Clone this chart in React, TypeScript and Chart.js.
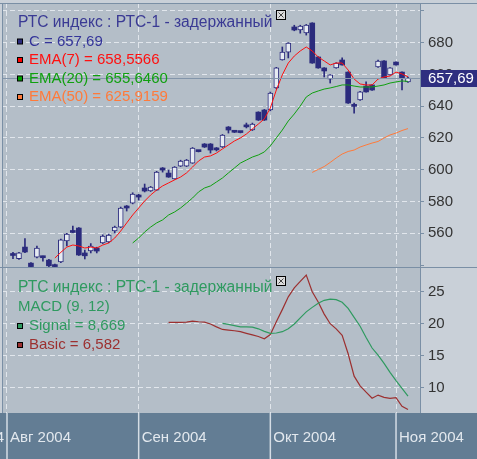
import React, { useEffect, useRef } from 'react';
import { Chart, registerables } from 'chart.js';

Chart.register(...registerables);

// ---------------- data ----------------
const monthStarts = [0, 22, 44, 65]; // trading-day index of first day of month
const monthLabels = ['Авг 2004', 'Сен 2004', 'Окт 2004', 'Ноя 2004'];
const prevMonthLabel = 'Июл 2004';
const firstCandleDay = 1;

const opens = [546.2, 544.0, 551.3, 541.2, 545.0, 545.5, 543.1, 540.2, 541.9, 555.1, 561.2, 563.3, 547.6, 548.8, 550.7, 553.9, 554.5, 561.4, 563.9, 577.1, 579.0, 584.1, 588.5, 586.6, 587.2, 601.1, 597.9, 594.2, 602.3, 602.3, 604.2, 611.9, 616.2, 616.2, 613.7, 614.3, 626.9, 624.0, 623.8, 628.1, 625.0, 636.3, 637.6, 637.6, 651.5, 669.1, 674.1, 689.9, 688.0, 686.1, 692.4, 671.0, 664.1, 657.1, 664.1, 669.1, 661.5, 640.1, 643.9, 652.7, 653.4, 664.7, 668.5, 659.7, 667.8, 661.5, 655.3];
const highs = [548.0, 548.0, 556.7, 541.6, 552.0, 545.7, 543.6, 540.6, 556.3, 560.0, 564.5, 563.6, 549.4, 553.5, 551.2, 559.0, 559.5, 564.5, 576.5, 577.5, 585.5, 584.5, 591.0, 589.5, 599.0, 601.4, 599.8, 602.0, 606.0, 606.5, 614.0, 612.2, 616.5, 616.5, 614.0, 622.2, 627.2, 624.2, 624.0, 629.4, 629.4, 636.5, 638.0, 649.0, 664.5, 677.3, 680.0, 691.0, 691.0, 691.5, 692.6, 671.2, 664.3, 659.9, 667.4, 670.4, 661.7, 642.0, 649.3, 655.3, 653.6, 669.1, 668.7, 664.3, 668.0, 661.7, 658.4];
const lows = [544.0, 543.5, 547.8, 538.8, 544.5, 542.5, 538.8, 538.8, 541.5, 552.0, 560.3, 546.0, 543.8, 547.6, 547.6, 553.5, 554.0, 560.1, 563.5, 574.0, 578.5, 580.9, 586.0, 586.3, 587.0, 598.5, 595.2, 594.0, 602.0, 602.0, 604.0, 611.2, 614.0, 610.5, 611.8, 614.0, 623.1, 623.4, 623.2, 626.3, 624.7, 631.0, 631.0, 637.0, 651.0, 669.0, 670.4, 687.5, 686.0, 684.8, 667.0, 663.9, 658.4, 654.6, 663.9, 665.8, 641.8, 635.7, 643.7, 648.8, 650.0, 664.5, 657.6, 659.5, 665.8, 650.2, 655.0];
const closes = [546.0, 547.6, 548.2, 539.0, 550.7, 544.6, 539.5, 539.0, 555.8, 559.5, 560.5, 546.3, 545.8, 551.9, 548.8, 558.3, 558.9, 563.9, 575.9, 575.9, 584.7, 582.8, 586.6, 589.1, 598.5, 599.8, 595.4, 601.7, 605.5, 606.1, 613.7, 611.4, 614.3, 612.4, 612.5, 621.9, 625.0, 623.6, 623.4, 627.0, 628.8, 631.3, 631.3, 648.3, 664.1, 674.1, 679.8, 688.0, 690.5, 691.1, 667.2, 664.1, 662.2, 659.7, 667.2, 666.0, 642.0, 639.9, 649.0, 649.0, 650.2, 668.5, 657.8, 664.1, 666.0, 657.8, 657.69];

const ema7Start = 8;
const ema7 = [544.4, 548.0, 551.3, 552.6, 552.0, 550.7, 551.3, 550.7, 552.6, 553.9, 557.0, 561.4, 566.5, 571.5, 575.9, 580.3, 584.1, 587.2, 589.8, 591.7, 593.6, 595.4, 598.0, 601.7, 605.5, 608.0, 608.7, 610.5, 613.1, 615.6, 618.1, 620.0, 622.5, 625.7, 628.8, 632.0, 638.9, 650.2, 659.7, 667.2, 671.6, 674.8, 677.3, 674.8, 671.0, 668.5, 666.0, 667.2, 667.2, 662.8, 657.1, 654.0, 653.4, 653.4, 657.1, 658.4, 659.0, 661.5, 660.3, 658.5566];
const ema20Start = 21;
const ema20 = [553.9, 557.0, 560.8, 563.9, 566.5, 568.4, 571.5, 573.4, 575.9, 579.0, 582.2, 586.0, 588.5, 589.8, 592.3, 594.8, 598.0, 601.1, 604.2, 606.1, 608.0, 609.3, 611.2, 615.0, 620.0, 625.0, 630.7, 635.1, 640.1, 645.8, 648.3, 649.6, 650.8, 651.5, 652.4, 653.4, 653.4, 652.7, 652.1, 652.1, 652.1, 652.7, 653.4, 654.6, 655.3, 655.9, 655.646];
const ema50Start = 51;
const ema50 = [598.3, 600.2, 602.0, 604.6, 607.4, 609.9, 611.5, 612.4, 614.3, 615.6, 616.8, 617.8, 620.0, 621.9, 623.1, 624.7, 625.9159];

const basicStart = 27;
const macdBasic = [20.2, 20.2, 20.2, 20.25, 20.4, 20.3, 20.25, 19.95, 19.5, 19.1, 19.0, 18.9, 18.75, 18.5, 18.25, 18.0, 17.65, 18.3, 20.3, 22.2, 24.2, 25.6, 26.6, 27.6, 25.0, 23.4, 21.5, 20.0, 19.2, 18.2, 15.3, 11.8, 10.3, 9.3, 8.35, 8.85, 8.5, 8.35, 8.45, 7.1, 6.582];
const signalStart = 36;
const macdSignal = [20.06, 19.9, 19.7, 19.5, 19.5, 19.45, 19.2, 18.8, 18.5, 18.55, 18.75, 19.2, 19.95, 20.9, 21.85, 22.55, 23.2, 23.65, 23.85, 23.75, 23.35, 22.4, 21.0, 19.6, 17.85, 16.2, 15.1, 13.8, 12.4, 11.1, 9.9, 8.669];

const priceTickLabels = [560, 580, 600, 620, 640, 660, 680];
const macdTickLabels = [10, 15, 20, 25];
const titleText = 'РТС индекс : РТС-1 - задержанный';

// ---------------- style ----------------
const X_MIN = -0.835;
const X_MAX = 69.006;
const PRICE_MIN = 538.75;
const PRICE_MAX = 705;
const MACD_MIN = 6.05;
const MACD_MAX = 28.7;

const NAVY = '#2b2b7d';
const HOLLOW = '#e6ebf2';
const PLOT_BG = '#b4bec8';
const AXIS_BG = '#c9d0d8';
const DATE_BG = '#637d94';
const FRAME = '#7a8fa5';
const GRID = 'rgba(236,240,245,0.8)';
const FONT = '"Liberation Sans", Arial, sans-serif';
const TITLE_FONT = `15.6px ${FONT}`;
const TEXT_FONT = `15px ${FONT}`;
const C_EMA7 = '#ff1010';
const C_EMA20 = '#10a010';
const C_EMA50 = '#ff7a3a';
const C_SIGNAL = '#2f9a60';
const C_BASIC = '#9c3030';

Chart.defaults.font.family = FONT;

const fmt = (v: number, d: number) => v.toFixed(d).replace('.', ',');
const series = (start: number, vals: number[]) => vals.map((y, k) => ({ x: start + k, y }));
const last = (a: number[]) => a[a.length - 1];

function drawCloseIcon(ctx: CanvasRenderingContext2D, x: number, y: number) {
  ctx.save();
  ctx.fillStyle = '#dcdcdc';
  ctx.fillRect(x, y, 10, 10);
  ctx.strokeStyle = '#000';
  ctx.lineWidth = 1;
  ctx.strokeRect(x + 0.5, y + 0.5, 9, 9);
  ctx.strokeStyle = '#444';
  ctx.beginPath();
  ctx.moveTo(x + 2.5, y + 2.5); ctx.lineTo(x + 7.5, y + 7.5);
  ctx.moveTo(x + 7.5, y + 2.5); ctx.lineTo(x + 2.5, y + 7.5);
  ctx.stroke();
  ctx.restore();
}

function legendRow(ctx: CanvasRenderingContext2D, y: number, sq: string, text: string, color: string) {
  ctx.fillStyle = '#000';
  ctx.fillRect(17, y - 3, 6, 6);
  ctx.fillStyle = sq;
  ctx.fillRect(18, y - 2, 4, 4);
  ctx.fillStyle = color;
  ctx.fillText(text, 29, y);
}

function xScaleBase(showLabels: boolean) {
  return {
    type: 'linear' as const,
    min: X_MIN,
    max: X_MAX,
    offset: false,
    afterBuildTicks: (s: any) => { s.ticks = monthStarts.map((value) => ({ value })); },
    afterFit: (s: any) => {
      s.height = showLabels ? 46 : 0;
      s.paddingLeft = 0; s.paddingRight = 0; s.paddingTop = 0; s.paddingBottom = 0;
    },
    ticks: {
      display: showLabels,
      autoSkip: false,
      maxRotation: 0,
      align: 'start' as const,
      labelOffset: 3,
      padding: 16,
      color: '#e2e8ee',
      font: { size: 15, family: FONT },
      callback: (v: any) => monthLabels[monthStarts.indexOf(Number(v))] ?? '',
    },
    grid: { color: GRID, drawTicks: false, lineWidth: 1, offset: false },
    border: { display: false, dash: [5, 3] },
  };
}

function yFit(s: any) {
  s.width = 57;
  s.paddingTop = 0; s.paddingBottom = 0; s.paddingLeft = 0; s.paddingRight = 0;
}

const pricePlugin = {
  id: 'pricePanel',
  beforeDraw(chart: any) {
    const { ctx, chartArea: a, width, height } = chart;
    ctx.save();
    ctx.fillStyle = AXIS_BG;
    ctx.fillRect(0, 0, width, height);
    ctx.fillStyle = PLOT_BG;
    ctx.fillRect(a.left, a.top, a.right - a.left, a.bottom - a.top);
    ctx.restore();
  },
  afterDraw(chart: any) {
    const { ctx, chartArea: a, width } = chart;
    const ys = chart.scales.y;
    ctx.save();
    const lc = last(closes);
    const py = Math.round(ys.getPixelForValue(lc));
    ctx.fillStyle = '#8395aa';
    ctx.fillRect(a.left, py, a.right - a.left, 1);
    ctx.fillStyle = FRAME;
    ctx.fillRect(0, a.top, width, 1);
    ctx.fillRect(a.left, a.top, 1, a.bottom - a.top);
    ctx.fillRect(a.right, a.top, 1, a.bottom - a.top + 1);
    ctx.fillRect(0, a.bottom, width, 1);
    ctx.fillStyle = '#2f2f80';
    ctx.fillRect(a.right + 1, py - 8, width - a.right - 1, 17);
    ctx.fillStyle = '#ffffff';
    ctx.font = TEXT_FONT;
    ctx.textBaseline = 'middle';
    ctx.textAlign = 'left';
    ctx.fillText(fmt(lc, 2), a.right + 8, py + 1);
    ctx.font = TITLE_FONT;
    ctx.fillStyle = '#3a3a94';
    ctx.fillText(titleText, 18, 23);
    drawCloseIcon(ctx, 276, 10);
    ctx.font = TEXT_FONT;
    legendRow(ctx, 41.5, NAVY, `C = ${fmt(lc, 2)}`, '#34349a');
    legendRow(ctx, 60, '#ff0000', `EMA(7) = ${fmt(last(ema7), 4)}`, C_EMA7);
    legendRow(ctx, 78.5, '#00a000', `EMA(20) = ${fmt(last(ema20), 4)}`, C_EMA20);
    legendRow(ctx, 97, '#ff7a3a', `EMA(50) = ${fmt(last(ema50), 4)}`, C_EMA50);
    ctx.restore();
  },
};

const macdPlugin = {
  id: 'macdPanel',
  beforeDraw(chart: any) {
    const { ctx, chartArea: a, width, height } = chart;
    const xs = chart.scales.x;
    ctx.save();
    ctx.fillStyle = AXIS_BG;
    ctx.fillRect(0, 0, width, height);
    ctx.fillStyle = PLOT_BG;
    ctx.fillRect(a.left, a.top, a.right - a.left, a.bottom - a.top);
    ctx.fillStyle = DATE_BG;
    ctx.fillRect(0, a.bottom, width, height - a.bottom);
    ctx.strokeStyle = '#d5dde5';
    ctx.lineWidth = 1.5;
    monthStarts.forEach((m) => {
      const px = xs.getPixelForValue(m);
      ctx.beginPath();
      ctx.moveTo(px, a.bottom);
      ctx.lineTo(px, height);
      ctx.stroke();
    });
    ctx.fillStyle = '#e2e8ee';
    ctx.font = TEXT_FONT;
    ctx.textAlign = 'right';
    ctx.textBaseline = 'middle';
    ctx.fillText(prevMonthLabel, 4, a.bottom + 25);
    ctx.restore();
  },
  afterDraw(chart: any) {
    const { ctx, chartArea: a } = chart;
    ctx.save();
    ctx.fillStyle = FRAME;
    ctx.fillRect(a.left, a.top, 1, a.bottom - a.top);
    ctx.fillRect(a.right, a.top, 1, a.bottom - a.top);
    ctx.textBaseline = 'middle';
    ctx.textAlign = 'left';
    ctx.font = TITLE_FONT;
    ctx.fillStyle = C_SIGNAL;
    ctx.fillText(titleText, 18, 20);
    drawCloseIcon(ctx, 276, 8);
    ctx.font = TEXT_FONT;
    ctx.fillStyle = C_SIGNAL;
    ctx.fillText('MACD (9, 12)', 18, 39);
    legendRow(ctx, 58, C_SIGNAL, `Signal = ${fmt(last(macdSignal), 3)}`, C_SIGNAL);
    legendRow(ctx, 77, C_BASIC, `Basic = ${fmt(last(macdBasic), 3)}`, C_BASIC);
    ctx.restore();
  },
};

function priceConfig(): any {
  const days = closes.map((_, i) => firstCandleDay + i);
  const up = closes.map((c, i) => c >= opens[i]);
  return {
    type: 'bar',
    data: {
      datasets: [
        { type: 'line', data: series(ema50Start, ema50), borderColor: C_EMA50, borderWidth: 1, pointRadius: 0, order: 0 },
        { type: 'line', data: series(ema20Start, ema20), borderColor: C_EMA20, borderWidth: 1, pointRadius: 0, order: 0 },
        { type: 'line', data: series(ema7Start, ema7), borderColor: C_EMA7, borderWidth: 1, pointRadius: 0, order: 0 },
        {
          type: 'bar',
          data: days.map((x, i) => ({ x, y: [opens[i], closes[i]] })),
          backgroundColor: up.map((u) => (u ? HOLLOW : NAVY)),
          borderColor: NAVY,
          borderWidth: up.map((u) => (u ? 1 : 0)),
          borderSkipped: false,
          barThickness: 5,
          minBarLength: 2,
          grouped: false,
          order: 1,
        },
        {
          type: 'bar',
          data: days.map((x, i) => ({ x, y: [lows[i], highs[i]] })),
          backgroundColor: NAVY,
          barThickness: 1,
          grouped: false,
          order: 2,
        },
      ],
    },
    options: {
      animation: false,
      responsive: false,
      maintainAspectRatio: false,
      events: [],
      layout: { padding: { left: 2, top: 3, right: 0, bottom: 1 } },
      plugins: { legend: { display: false }, tooltip: { enabled: false } },
      scales: {
        x: xScaleBase(false),
        y: {
          position: 'right',
          min: PRICE_MIN,
          max: PRICE_MAX,
          afterFit: yFit,
          ticks: {
            stepSize: 20,
            includeBounds: false,
            padding: 4,
            color: '#333333',
            font: { size: 15, family: FONT },
            callback: (v: any) => (priceTickLabels.includes(Number(v)) ? String(v) : ''),
          },
          grid: {
            color: (c: any) => (c.tick && c.tick.value < 550 ? 'rgba(0,0,0,0)' : GRID),
            tickColor: FRAME,
            tickLength: 4,
          },
          border: { display: false, dash: [5, 3] },
        },
      },
    },
    plugins: [pricePlugin],
  };
}

function macdConfig(): any {
  return {
    type: 'line',
    data: {
      datasets: [
        { data: series(signalStart, macdSignal), borderColor: C_SIGNAL, borderWidth: 1.2, pointRadius: 0 },
        { data: series(basicStart, macdBasic), borderColor: C_BASIC, borderWidth: 1.2, pointRadius: 0 },
      ],
    },
    options: {
      animation: false,
      responsive: false,
      maintainAspectRatio: false,
      events: [],
      layout: { padding: { left: 2, top: 0, right: 0, bottom: 0 } },
      plugins: { legend: { display: false }, tooltip: { enabled: false } },
      scales: {
        x: xScaleBase(true),
        y: {
          position: 'right',
          min: MACD_MIN,
          max: MACD_MAX,
          afterFit: yFit,
          ticks: {
            stepSize: 5,
            includeBounds: false,
            padding: 4,
            color: '#333333',
            font: { size: 15, family: FONT },
            callback: (v: any) => (macdTickLabels.includes(Number(v)) ? String(v) : ''),
          },
          grid: { color: GRID, tickColor: FRAME, tickLength: 4 },
          border: { display: false, dash: [5, 3] },
        },
      },
    },
    plugins: [macdPlugin],
  };
}

export default function App() {
  const topRef = useRef<HTMLCanvasElement>(null);
  const botRef = useRef<HTMLCanvasElement>(null);
  useEffect(() => {
    const top = new Chart(topRef.current as HTMLCanvasElement, priceConfig());
    const bot = new Chart(botRef.current as HTMLCanvasElement, macdConfig());
    return () => {
      top.destroy();
      bot.destroy();
    };
  }, []);
  return (
    <div style={{ position: 'fixed', left: 0, top: 0, width: 477, height: 459, background: AXIS_BG }}>
      <canvas ref={topRef} width={477} height={268} style={{ position: 'absolute', left: 0, top: 0, width: 477, height: 268 }} />
      <canvas ref={botRef} width={477} height={191} style={{ position: 'absolute', left: 0, top: 268, width: 477, height: 191 }} />
    </div>
  );
}
